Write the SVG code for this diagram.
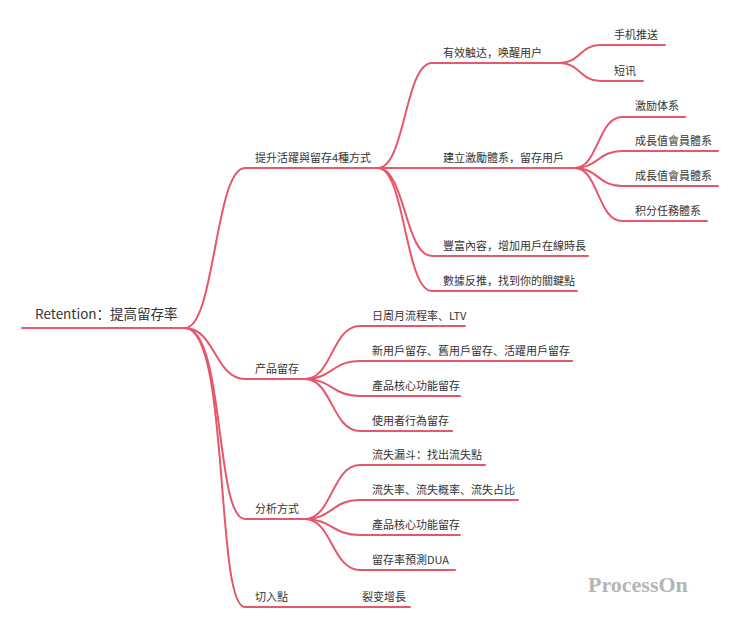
<svg xmlns="http://www.w3.org/2000/svg" width="740" height="633" viewBox="0 0 740 633">
<style>
.c{fill:none;stroke:#e5576b;stroke-width:2;stroke-linecap:round}
.t{font-family:"Noto Sans CJK SC","Liberation Sans",sans-serif;font-size:11px;fill:#333}
.r{font-size:13.5px}
</style>
<rect width="740" height="633" fill="#fff"/>
<g id="connectors">
<path class="c" d="M22 328H185"/>
<path class="c" d="M185 328C215 328 215 168 245 168H378"/>
<path class="c" d="M185 328C215 328 215 379 245 379H305"/>
<path class="c" d="M185 328C225 328 215 519 245 519H305"/>
<path class="c" d="M185 328C230 328 215 607 245 607H410"/>
<path class="c" d="M378 168C405 168 405 63 432 63H560"/>
<path class="c" d="M378 168H575"/>
<path class="c" d="M378 168C405 168 405 256 432 256H588"/>
<path class="c" d="M378 168C405 168 405 291 432 291H577"/>
<path class="c" d="M560 63C580 63 580 45 600 45H665"/>
<path class="c" d="M560 63C580 63 580 81 600 81H643"/>
<path class="c" d="M575 168C598 168 598 117 622 117H685"/>
<path class="c" d="M575 168C598 168 598 151 622 151H718"/>
<path class="c" d="M575 168C598 168 598 186 622 186H718"/>
<path class="c" d="M575 168C598 168 598 221 622 221H707"/>
<path class="c" d="M305 379C332 379 332 326 360 326H465"/>
<path class="c" d="M305 379C332 379 332 361 360 361H572"/>
<path class="c" d="M305 379C332 379 332 396 360 396H460"/>
<path class="c" d="M305 379C332 379 332 431 360 431H452"/>
<path class="c" d="M305 519C332 519 332 465 360 465H485"/>
<path class="c" d="M305 519C332 519 332 500 360 500H518"/>
<path class="c" d="M305 519C332 519 332 535 360 535H460"/>
<path class="c" d="M305 519C332 519 332 570 360 570H455"/>
</g>
<g id="root"><text class="t r" x="35" y="319">Retention：提高留存率</text></g>
<g id="n1"><text class="t" x="255" y="162">提升活躍與留存4種方式</text></g>
<g id="n2"><text class="t" x="443" y="57">有效触达，唤醒用户</text></g>
<g id="n3"><text class="t" x="614" y="39">手机推送</text></g>
<g id="n4"><text class="t" x="614" y="75">短讯</text></g>
<g id="n5"><text class="t" x="443" y="162">建立激勵體系，留存用戶</text></g>
<g id="n6"><text class="t" x="635" y="110">激励体系</text></g>
<g id="n7"><text class="t" x="635" y="145">成長值會員體系</text></g>
<g id="n8"><text class="t" x="635" y="180">成長值會員體系</text></g>
<g id="n9"><text class="t" x="635" y="215">积分任務體系</text></g>
<g id="n10"><text class="t" x="443" y="250">豐富內容，增加用戶在線時長</text></g>
<g id="n11"><text class="t" x="443" y="285">數據反推，找到你的關鍵點</text></g>
<g id="n12"><text class="t" x="255" y="373">产品留存</text></g>
<g id="n13"><text class="t" x="372" y="320">日周月流程率、LTV</text></g>
<g id="n14"><text class="t" x="372" y="355">新用戶留存、舊用戶留存、活躍用戶留存</text></g>
<g id="n15"><text class="t" x="372" y="390">產品核心功能留存</text></g>
<g id="n16"><text class="t" x="372" y="425">使用者行為留存</text></g>
<g id="n17"><text class="t" x="255" y="513">分析方式</text></g>
<g id="n18"><text class="t" x="372" y="459">流失漏斗：找出流失點</text></g>
<g id="n19"><text class="t" x="372" y="494">流失率、流失概率、流失占比</text></g>
<g id="n20"><text class="t" x="372" y="529">產品核心功能留存</text></g>
<g id="n21"><text class="t" x="372" y="564">留存率預測DUA</text></g>
<g id="n22"><text class="t" x="255" y="601">切入點</text></g>
<g id="n23"><text class="t" x="362" y="601">裂变增長</text></g>
<text x="588" y="592" font-family="Liberation Serif,serif" font-weight="bold" font-size="22" fill="#b5b5b5">ProcessOn</text>
</svg>
